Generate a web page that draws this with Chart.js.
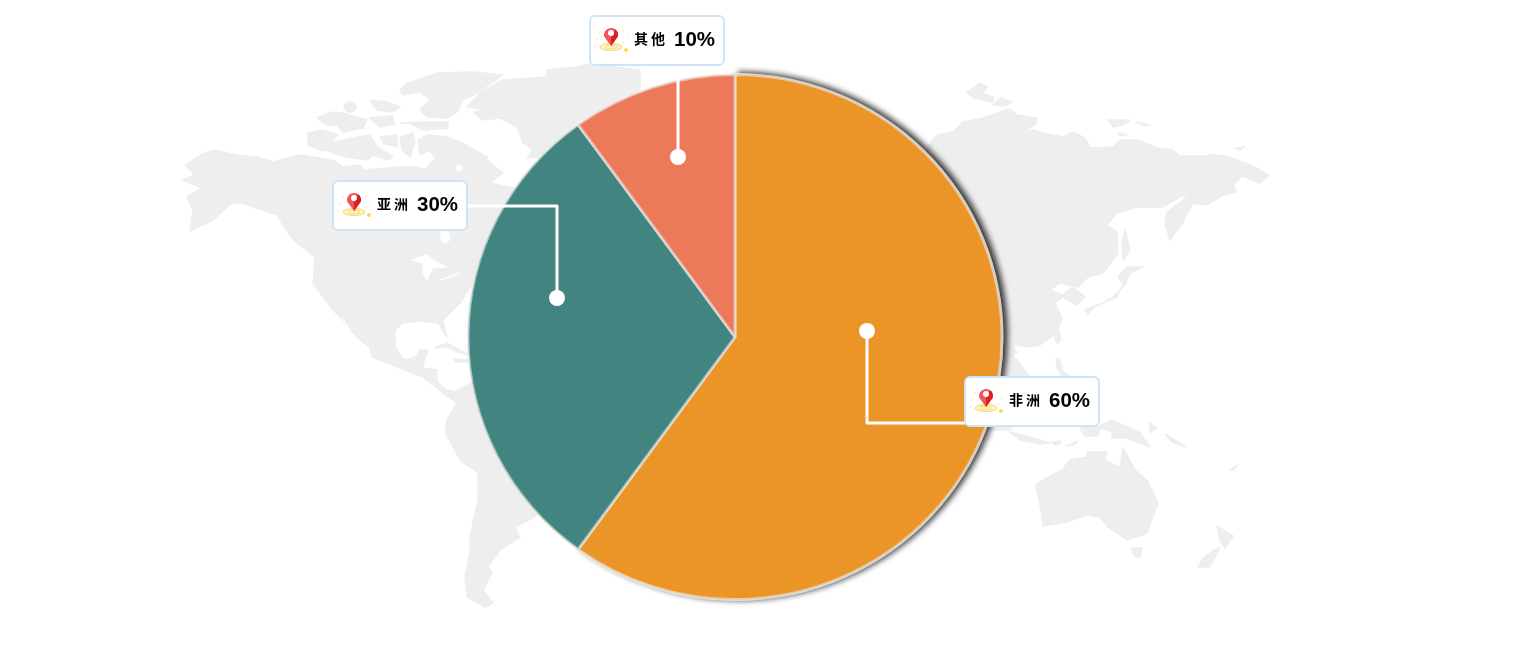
<!DOCTYPE html>
<html><head><meta charset="utf-8">
<script src="https://cdn.jsdelivr.net/npm/chart.js@4"></script>
<style>
html,body{margin:0;padding:0;background:#fff;width:1517px;height:659px;overflow:hidden}
#map,#c{position:absolute;left:0;top:0}
#map{filter:blur(0.6px)}
#map polygon,#map ellipse{stroke-linejoin:round}
.l{fill:#eeeeee;stroke:#eeeeee;stroke-width:1.5}
.w{fill:#fff;stroke:#fff;stroke-width:1}
</style></head><body>
<svg id="map" width="1517" height="659" viewBox="0 0 1517 659">
<!-- North America -->
<polygon class="l" points="185,165 200,155 213,150 237,155 257,157 273,162 300,155 333,160 343,167 360,165 363,170 400,167 417,167 425,170 433,160 450,155 460,163 470,160 487,160 503,173 490,183 513,188 560,190 560,250 470,287 460,303 443,320 447,337 438,323 420,321 403,323 395,330 395,347 403,360 415,358 420,350 428,350 422,368 437,370 437,382 447,390 455,392 457,403 447,396 437,388 423,377 400,368 372,357 370,348 357,337 340,317 333,310 313,283 315,257 293,240 277,215 242,203 232,203 213,220 190,231 193,210 187,197 202,188 183,180 195,175"/>
<!-- South America -->
<polygon class="l" points="443,392 455,392 473,382 600,400 580,480 533,518 515,527 520,537 500,550 488,567 492,573 483,590 493,603 485,607 467,597 465,577 470,553 470,537 478,500 478,473 460,460 445,432 447,420 457,403"/>
<!-- Arctic -->
<polygon class="l" points="467,107 480,93 503,80 547,77 547,70 577,67 590,64 640,70 640,140 577,123 540,157 527,158 533,150 523,143 517,127 500,118 483,120 473,112 488,110"/>
<polygon class="l" points="412,82 437,73 473,72 503,75 493,82 477,93 463,100 457,112 447,118 427,117 420,110 430,100 420,92 403,95 400,90 407,83"/>
<polygon class="l" points="317,118 333,112 343,113 367,120 363,128 343,132 337,125 327,125"/>
<polygon class="l" points="370,100 387,102 400,107 393,112 377,110"/>
<ellipse class="l" cx="350" cy="107" rx="6" ry="5"/>
<polygon class="l" points="308,133 323,130 338,135 328,145 337,152 320,150 308,145"/>
<polygon class="l" points="330,143 353,138 370,135 377,147 393,157 387,160 373,155 367,160 347,157 332,153"/>
<polygon class="l" points="380,137 397,135 397,147 383,143"/>
<polygon class="l" points="400,137 413,133 415,142 410,157 402,150"/>
<polygon class="l" points="418,140 428,135 447,137 460,142 487,157 483,170 440,165 430,150 420,155"/>
<polygon class="l" points="400,123 427,122 448,122 448,128 423,130 410,123"/>
<polygon class="l" points="370,118 392,116 395,124 380,127"/>
<!-- lakes and inlets -->
<ellipse class="w" cx="459" cy="168" rx="3.5" ry="3"/>
<ellipse class="w" cx="445" cy="237" rx="5" ry="6"/>
<polygon class="w" points="412,260 427,255 437,262 447,267 433,268 427,280 423,273 423,263"/>
<polygon class="w" points="440,280 460,273 452,277"/>
<polygon class="w" points="342,317 357,343 350,332"/>
<!-- Caribbean -->
<polygon class="l" points="435,348 447,343 460,350 468,355 458,352 447,347"/>
<polygon class="l" points="454,359 468,360 468,362 456,362"/>
<!-- Asia -->
<polygon class="l" points="850,300 930,143 937,135 953,132 963,122 983,118 1000,112 1010,109 1017,115 1037,118 1035,125 1018,135 1033,130 1043,133 1063,137 1073,132 1085,138 1090,148 1113,147 1120,140 1137,140 1157,148 1173,150 1180,156 1207,156 1210,154 1230,157 1250,165 1269,175 1260,183 1242,176 1233,185 1237,192 1223,195 1207,205 1193,203 1187,213 1183,222 1170,240 1165,223 1167,212 1190,195 1180,197 1162,207 1137,207 1117,213 1107,225 1117,232 1118,253 1103,273 1088,277 1078,287 1060,283 1050,290 1062,295 1073,287 1085,297 1077,305 1063,297 1055,303 1062,318 1057,333 1040,345 1022,348 1013,355 1023,368 1040,390 1010,430 950,430"/>
<polygon class="w" points="1015,346 1028,348 1030,354 1020,358"/>
<polygon class="l" points="1085,310 1117,297 1123,283 1118,277 1127,267 1143,267 1130,273 1125,285 1112,298 1093,308 1088,315"/>
<polygon class="l" points="1125,230 1130,250 1123,260 1122,243"/>
<polygon class="l" points="967,92 980,83 987,87 983,93 993,97 993,102 973,98"/>
<polygon class="l" points="993,105 1000,98 1012,102 1005,106"/>
<polygon class="l" points="1108,120 1130,120 1123,125 1113,127"/>
<polygon class="l" points="1137,122 1150,125 1143,126"/>
<polygon class="l" points="1118,133 1127,135 1120,136"/>
<polygon class="l" points="1235,148 1245,147 1240,150"/>
<ellipse class="l" cx="1058" cy="337" rx="2.5" ry="6"/>
<polygon class="l" points="1056,358 1060,360 1063,372 1070,376 1062,376 1057,368"/>
<!-- Indonesia -->
<polygon class="l" points="1010,432 1030,437 1050,443 1040,444 1020,440"/>
<polygon class="l" points="1052,442 1060,441 1060,444 1055,445"/>
<polygon class="l" points="1066,446 1078,441 1074,445"/>
<polygon class="l" points="1080,428 1100,426 1098,436 1085,436"/>
<polygon class="l" points="1098,427 1112,420 1140,433 1150,447 1137,442 1127,438 1112,438 1112,432"/>
<polygon class="l" points="1150,423 1157,428 1150,432"/>
<polygon class="l" points="1165,434 1175,440 1186,447 1172,442"/>
<!-- Oceania -->
<polygon class="l" points="1036,485 1047,478 1062,470 1070,460 1087,457 1087,452 1107,452 1105,460 1120,468 1123,448 1135,470 1147,480 1158,503 1147,533 1127,540 1117,533 1108,527 1100,517 1087,515 1067,522 1043,526 1042,515"/>
<polygon class="l" points="1131,548 1142,548 1140,557 1135,557"/>
<polygon class="l" points="1217,526 1233,536 1225,548 1220,540"/>
<polygon class="l" points="1220,547 1210,567 1198,567 1203,558"/>
<polygon class="l" points="1230,470 1237,465 1234,470"/>
</svg>
<canvas id="c" width="1517" height="659"></canvas>
<script>
const categories = ['非洲', '亚洲', '其他'];
const values = [60, 30, 10];
const sliceColors = ['#EB9528', '#428480', '#ED795B'];

// callout layout relative to the pie centre: dot, elbow and box corner
const callouts = [
  { dot: [132, -6], path: [[132, 86], [232, 86]], box: [230, 40] },
  { dot: [-178, -39], path: [[-178, -131], [-268, -131]], box: [-402, -156] },
  { dot: [-57, -180], path: [[-57, -272]], box: [-145, -321] }
];
const BOX_W = 134, BOX_H = 49;

function drawPin(ctx, x, y) {
  // gold rings
  ctx.fillStyle = '#FFF3C4'; ctx.strokeStyle = '#F9D56A'; ctx.lineWidth = 1;
  ctx.beginPath(); ctx.ellipse(x, y + 9, 11, 3.5, 0, 0, Math.PI * 2); ctx.fill(); ctx.stroke();
  ctx.strokeStyle = '#FBDD85';
  ctx.beginPath(); ctx.ellipse(x, y + 9, 6, 1.8, 0, 0, Math.PI * 2); ctx.stroke();
  // pin
  ctx.fillStyle = '#F25555';
  ctx.beginPath();
  ctx.arc(x, y - 3, 7, Math.PI * 0.93, Math.PI * 0.07);
  ctx.lineTo(x, y + 8);
  ctx.closePath(); ctx.fill();
  ctx.fillStyle = '#D62222';
  ctx.beginPath();
  ctx.arc(x, y - 3, 7, -Math.PI * 0.3, Math.PI * 0.07);
  ctx.lineTo(x, y + 8); ctx.lineTo(x, y);
  ctx.closePath(); ctx.fill();
  ctx.fillStyle = '#fff';
  ctx.beginPath(); ctx.arc(x, y - 5, 3, 0, Math.PI * 2); ctx.fill();
  // sparkles
  ctx.fillStyle = '#FFD84D';
  ctx.beginPath(); ctx.arc(x + 15, y + 12, 2, 0, Math.PI * 2); ctx.fill();
  ctx.fillStyle = '#FFEFB0';
  [[-14, 1], [-16, 8], [-11, -6], [12, -7], [16, 0], [12, 5]].forEach(p => {
    ctx.beginPath(); ctx.arc(x + p[0], y + p[1], 1, 0, Math.PI * 2); ctx.fill();
  });
}

const shadowPlugin = {
  id: 'sliceShadow',
  beforeDatasetsDraw(chart) {
    const ctx = chart.ctx, arcs = chart.getDatasetMeta(0).data;
    ctx.save();
    ctx.translate(arcs[0].x, arcs[0].y);
    ctx.scale(1, 0.983);
    ctx.translate(-arcs[0].x, -arcs[0].y);
    // the largest slice alone casts the drop shadow, underneath all the slices
    ctx.save();
    ctx.shadowColor = 'rgba(0,0,0,0.9)';
    ctx.shadowBlur = 6;
    ctx.shadowOffsetX = 4;
    ctx.shadowOffsetY = -1;
    arcs[0].draw(ctx);
    ctx.restore();
  },
  afterDatasetsDraw(chart) { chart.ctx.restore(); }
};

const calloutPlugin = {
  id: 'callouts',
  afterDatasetsDraw(chart) {
    const ctx = chart.ctx, arcs = chart.getDatasetMeta(0).data;
    const cx = arcs[0].x, cy = arcs[0].y;
    categories.forEach((name, i) => {
      const c = callouts[i];
      ctx.save();
      ctx.strokeStyle = '#fff'; ctx.lineWidth = 3; ctx.lineJoin = 'round';
      ctx.beginPath();
      ctx.moveTo(cx + c.dot[0], cy + c.dot[1]);
      c.path.forEach(p => ctx.lineTo(cx + p[0], cy + p[1]));
      ctx.stroke();
      ctx.fillStyle = '#fff';
      ctx.beginPath(); ctx.arc(cx + c.dot[0], cy + c.dot[1], 8, 0, Math.PI * 2); ctx.fill();
      const bx = cx + c.box[0], by = cy + c.box[1];
      ctx.beginPath(); ctx.roundRect(bx, by, BOX_W, BOX_H, 5);
      ctx.fillStyle = '#fff'; ctx.fill();
      ctx.strokeStyle = '#CFE4F7'; ctx.lineWidth = 2; ctx.stroke();
      drawPin(ctx, bx + 21, by + 22);
      ctx.fillStyle = '#000';
      ctx.textBaseline = 'middle'; ctx.textAlign = 'left';
      ctx.font = 'bold 14px "Noto Sans CJK SC"';
      ctx.letterSpacing = '3px';
      ctx.fillText(name, bx + 44, by + 23);
      ctx.letterSpacing = '0px';
      ctx.font = 'bold 20.5px "Liberation Sans"';
      ctx.fillText(values[i] + '%', bx + 84, by + 24.5);
      ctx.restore();
    });
  }
};

new Chart(document.getElementById('c'), {
  type: 'pie',
  data: {
    labels: categories,
    datasets: [{
      data: values,
      backgroundColor: sliceColors,
      borderColor: 'rgba(235,235,235,0.6)',
      borderWidth: 3,
      radius: 267
    }]
  },
  options: {
    responsive: false,
    animation: false,
    layout: { padding: { right: 47, top: 15 } },
    plugins: { legend: { display: false }, tooltip: { enabled: false } }
  },
  plugins: [shadowPlugin, calloutPlugin]
});
</script>
</body></html>
